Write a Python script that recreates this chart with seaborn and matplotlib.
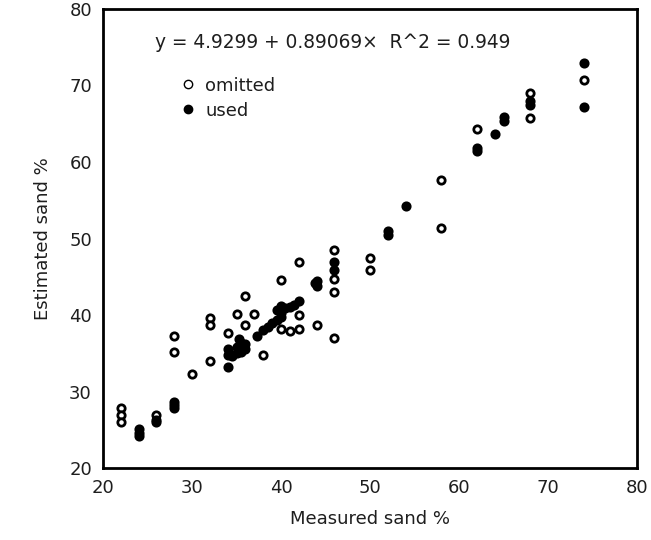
import matplotlib
matplotlib.use("Agg")
import matplotlib.pyplot as plt
from matplotlib.lines import Line2D
from matplotlib.ticker import MultipleLocator
import seaborn as sns
import pandas as pd

# ---- data ----
omitted_x = [22, 22, 22, 26, 28, 28, 30, 32, 32, 32, 34, 35, 36, 36, 37, 38,
             40, 40, 41, 42, 42, 42, 44, 46, 46, 46, 46, 50, 50, 58, 58, 62,
             68, 68, 74]
omitted_y = [27.9, 26.9, 26.0, 26.9, 37.2, 35.2, 32.3, 39.6, 38.7, 34.0, 37.7,
             40.1, 42.5, 38.7, 40.1, 34.8, 44.6, 38.2, 37.9, 38.2, 40.0, 46.9,
             38.7, 48.5, 44.7, 43.0, 37.0, 47.5, 45.9, 57.7, 51.4, 64.3,
             69.0, 65.8, 70.7]

used_x = [24, 24, 24, 26, 26, 28, 28, 28, 34, 34, 34, 34.5, 35, 35, 35.3, 35.5,
          35.5, 36, 36, 37.3, 38, 38.5, 39, 39.5, 39.5, 40, 40, 40, 40.5, 41,
          41.5, 42, 43.8, 44, 44, 46, 46, 52, 52, 54, 62, 62, 64, 65, 65, 68,
          68, 74, 74]
used_y = [25.1, 24.6, 24.2, 26.0, 26.3, 28.6, 28.2, 27.8, 33.2, 34.8, 35.5,
          34.6, 35.0, 35.8, 36.8, 35.2, 36.3, 35.5, 36.2, 37.2, 38.0, 38.4,
          38.9, 39.3, 40.7, 39.8, 40.3, 41.2, 40.9, 41.0, 41.3, 41.8, 44.2,
          44.5, 43.8, 46.9, 45.9, 51.0, 50.4, 54.3, 61.8, 61.4, 63.6, 65.9,
          65.4, 68.0, 67.5, 72.9, 67.2]

x_ticks = [20, 30, 40, 50, 60, 70, 80]
y_ticks = [20, 30, 40, 50, 60, 70, 80]
equation = "y = 4.9299 + 0.89069\u00d7  R^2 = 0.949"

df_om = pd.DataFrame({"Measured": omitted_x, "Estimated": omitted_y})
df_us = pd.DataFrame({"Measured": used_x, "Estimated": used_y})

sns.set_style("white")
plt.rcParams["font.family"] = ["DejaVu Sans"]
ink = "#1e1e1e"

fig = plt.figure(figsize=(6.51, 5.40), dpi=100)
ax = fig.add_axes([103 / 651, 1 - 468 / 540, (637 - 103) / 651, (468 - 9) / 540])

sns.scatterplot(data=df_om, x="Measured", y="Estimated", ax=ax, marker="o",
                s=28, facecolor="white", edgecolor="black", linewidth=2.0,
                legend=False, zorder=3)
sns.scatterplot(data=df_us, x="Measured", y="Estimated", ax=ax, marker="o",
                s=28, color="black", edgecolor="black", linewidth=2.0,
                legend=False, zorder=3)

ax.set_xlim(20, 80)
ax.set_ylim(20, 80)
ax.set_xticks(x_ticks)
ax.set_yticks(y_ticks)
ax.xaxis.set_minor_locator(MultipleLocator(5))
ax.yaxis.set_minor_locator(MultipleLocator(5))
ax.tick_params(which="both", direction="in", top=False, right=False,
               color="black", width=1.5, labelsize=13, labelcolor=ink, pad=8)
ax.tick_params(which="major", length=5.5)
ax.tick_params(which="minor", length=3)
for sp in ax.spines.values():
    sp.set_linewidth(2.0)
    sp.set_color("black")

ax.set_xlabel("Measured sand %", fontsize=13, color=ink, labelpad=9)
ax.set_ylabel("Estimated sand %", fontsize=13, color=ink, labelpad=12)

ax.text(0.097, 0.928, equation, transform=ax.transAxes, fontsize=13.4,
        color=ink, va="center", ha="left")

handles = [
    Line2D([], [], linestyle="none", marker="o", markersize=6,
           markerfacecolor="white", markeredgecolor="black", markeredgewidth=1.0),
    Line2D([], [], linestyle="none", marker="o", markersize=6,
           markerfacecolor="black", markeredgecolor="black"),
]
leg = ax.legend(handles, ["omitted", "used"], loc="upper left",
                bbox_to_anchor=(0.129, 0.868), frameon=False, fontsize=13,
                handlelength=1.0, handletextpad=0.45, labelspacing=0.38,
                borderpad=0.4, borderaxespad=0.0)
for t in leg.get_texts():
    t.set_color(ink)

fig.savefig("out.png", dpi=100)
